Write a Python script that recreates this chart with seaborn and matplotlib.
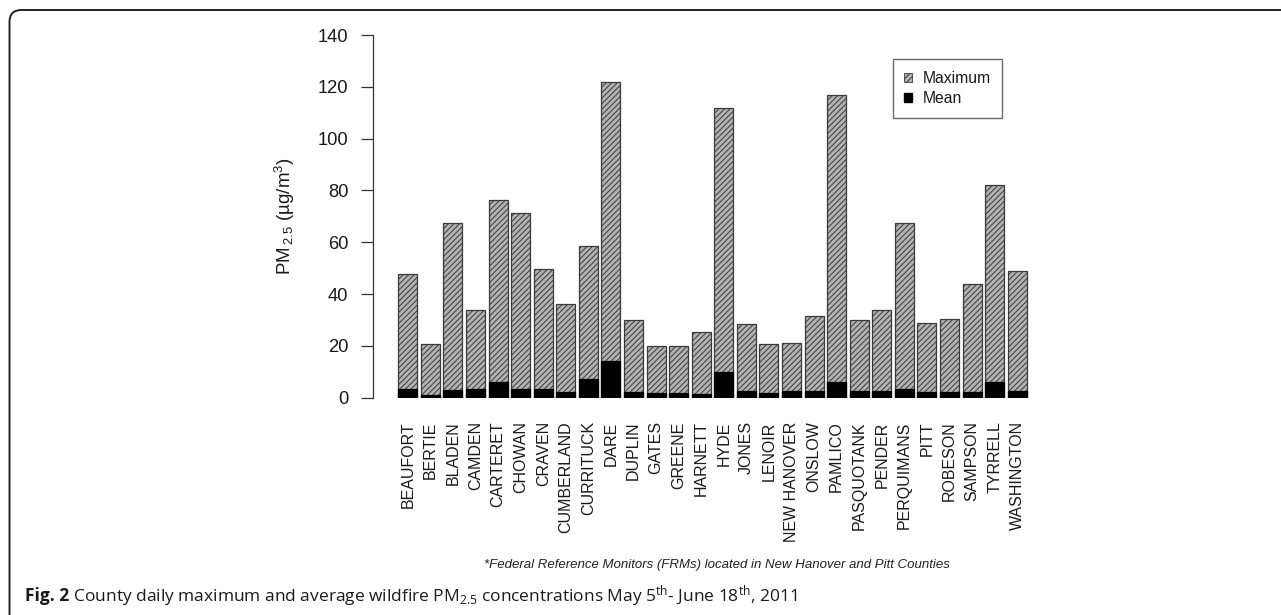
import matplotlib
matplotlib.use("Agg")
import numpy as np
import pandas as pd
import matplotlib.pyplot as plt
import matplotlib.patches as mpatches
import matplotlib.transforms as mtransforms
import seaborn as sns

# ---------------- data ----------------
counties = ["BEAUFORT", "BERTIE", "BLADEN", "CAMDEN", "CARTERET", "CHOWAN", "CRAVEN",
            "CUMBERLAND", "CURRITUCK", "DARE", "DUPLIN", "GATES", "GREENE", "HARNETT",
            "HYDE", "JONES", "LENOIR", "NEW HANOVER", "ONSLOW", "PAMLICO", "PASQUOTANK",
            "PENDER", "PERQUIMANS", "PITT", "ROBESON", "SAMPSON", "TYRRELL", "WASHINGTON"]
max_pm = [47.7, 20.7, 67.3, 33.8, 76.3, 71.3, 49.8, 36.0, 58.7, 121.7, 30.0, 19.9, 19.9, 25.5,
          111.8, 28.4, 20.7, 21.0, 31.7, 116.7, 29.9, 33.7, 67.3, 29.0, 30.4, 43.9, 82.1, 48.8]
mean_pm = [3.3, 1.0, 3.0, 3.3, 5.9, 3.2, 3.2, 2.1, 7.3, 14.2, 2.1, 1.7, 1.7, 1.5,
           9.9, 2.4, 1.7, 2.4, 2.6, 5.9, 2.7, 2.7, 3.2, 2.2, 2.2, 2.2, 5.9, 2.7]
yticks = [0, 20, 40, 60, 80, 100, 120, 140]
legend_labels = ["Maximum", "Mean"]
ylabel = r"PM$_{\,2.5}$ (µg/m$^{3}$)"
footnote = "*Federal Reference Monitors (FRMs) located in New Hanover and Pitt Counties"
caption_bold = "Fig. 2"
caption_rest = r" County daily maximum and average wildfire PM$_{2.5}$ concentrations May 5$^{th}$- June 18$^{th}$, 2011"

# ---------------- style ----------------
sns.set_style("white")
plt.rcParams["font.family"] = ["Liberation Sans", "DejaVu Sans"]
plt.rcParams["mathtext.default"] = "regular"
plt.rcParams["hatch.linewidth"] = 0.7

W, H = 1281, 615
fig = plt.figure(figsize=(W / 100, H / 100), dpi=100)
ax_left, ax_right, ax_top, ax_bottom = 373.3, 1051.8, 35.0, 397.7
ax = fig.add_axes([ax_left / W, 1 - ax_bottom / H, (ax_right - ax_left) / W, (ax_bottom - ax_top) / H])

df = pd.DataFrame({"county": counties, "max": max_pm, "mean": mean_pm})
max_face, hatch_col = "#b2b2b2", "#3a3a3a"
sns.barplot(data=df, x="county", y="max", order=counties, color=max_face, saturation=1,
            width=0.84, edgecolor=hatch_col, linewidth=0.9, hatch="//////", errorbar=None, ax=ax)
sns.barplot(data=df, x="county", y="mean", order=counties, color="black", saturation=1,
            width=0.84, edgecolor="black", linewidth=0.9, errorbar=None, ax=ax)

ax.set_xlim(-1.53, len(counties) - 1 + 1.53)
ax.set_ylim(0, 140)
ax.set_yticks(yticks)
ax.set_yticklabels([str(v) for v in yticks])
ax.set_xlabel("")
for s in ["top", "right", "bottom"]:
    ax.spines[s].set_visible(False)
ax.spines["left"].set_color("#333333")
ax.spines["left"].set_linewidth(0.9)
ax.tick_params(axis="y", left=True, length=9, width=0.9, pad=9, labelsize=13.2,
               colors="#333333", labelcolor="#1a1a1a")
ax.tick_params(axis="x", bottom=False, length=0, pad=17, labelsize=11.5, labelcolor="#1a1a1a")
ax.set_xticks(range(len(counties)))
ax.set_xticklabels(counties, rotation=90, ha="center", va="top")

ax.set_ylabel(ylabel, fontsize=13.5, color="#1a1a1a")
ax.yaxis.set_label_coords((285 - ax_left) / (ax_right - ax_left), 0.5)
ax.yaxis.label.set_va("center")

h_max = mpatches.Patch(facecolor=max_face, edgecolor=hatch_col, hatch="//////", linewidth=0.6)
h_mean = mpatches.Patch(facecolor="black", edgecolor="black")
leg = ax.legend([h_max, h_mean], legend_labels, loc="upper left",
                bbox_to_anchor=(892.7 / W, 1 - 59 / H), bbox_transform=fig.transFigure,
                borderaxespad=0, fontsize=11.3, handlelength=0.5, handleheight=0.5,
                handletextpad=0.65, borderpad=0.75, labelspacing=0.32, frameon=True,
                fancybox=False, edgecolor="#444444")
leg.get_frame().set_linewidth(1.0)
for t in leg.get_texts():
    t.set_color("#1a1a1a")

# footnote
fig.text(717 / W, 1 - 565 / H, footnote, style="italic", fontsize=9.5, ha="center", va="center",
         color="#222222")

# caption
r = fig.canvas.get_renderer()
t1 = fig.text(25 / W, 1 - 601 / H, caption_bold, fontfamily="Open Sans", fontweight="bold",
              fontsize=12.5, va="baseline", ha="left", color="#1a1a1a")
bb = t1.get_window_extent(r)
fig.text(bb.x1 / W, 1 - 601 / H, caption_rest, fontfamily="Open Sans", fontsize=12.5,
         va="baseline", ha="left", color="#1a1a1a")

# rounded frame
frame = mpatches.FancyBboxPatch((9.5, -40), 1400, (H - 10) + 40,
                                boxstyle="round,pad=0,rounding_size=12",
                                transform=mtransforms.IdentityTransform(), fill=False,
                                edgecolor="#222222", linewidth=1.4)
fig.add_artist(frame)

fig.savefig("out.png", dpi=100)
